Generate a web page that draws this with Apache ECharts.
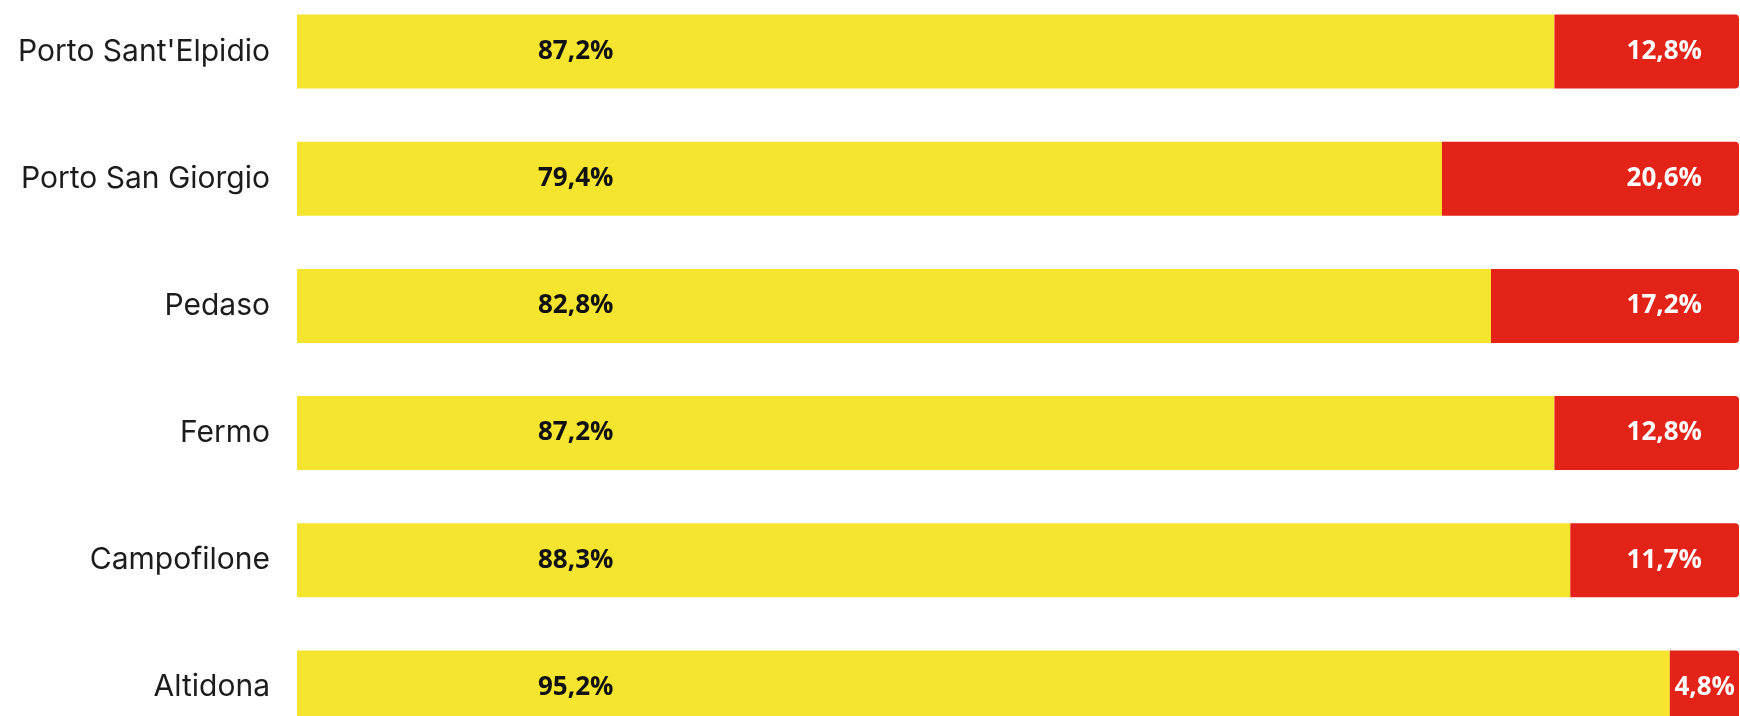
<!DOCTYPE html>
<html>
<head>
<meta charset="utf-8">
<script src="https://cdn.jsdelivr.net/npm/echarts@6/dist/echarts.min.js"></script>
<style>
  html, body { margin: 0; padding: 0; background: #fff; overflow: hidden; width: 1740px; height: 716px; }
  /* l'ultima barra e tagliata in basso come nell'originale */
  #chart { position: absolute; left: 0; top: -12px; width: 1740px; height: 763px; }
</style>
</head>
<body>
<div id="chart"></div>
<script>
// comuni, dall'alto verso il basso
const comuni = ["Porto Sant'Elpidio", 'Porto San Giorgio', 'Pedaso', 'Fermo', 'Campofilone', 'Altidona']
const quotaGialla = [87.2, 79.4, 82.8, 87.2, 88.3, 95.2]
const quotaRossa = [12.8, 20.6, 17.2, 12.8, 11.7, 4.8]

const fmt = (v) => v.toFixed(1).replace('.', ',') + '%'

const chart = echarts.init(document.getElementById('chart'))

const options = {
  animation: false,
  grid: {
    left: 297,
    right: 1,
    top: 0,
    bottom: 0
  },
  xAxis: {
    type: 'value',
    min: 0,
    max: 100,
    show: false
  },
  yAxis: {
    type: 'category',
    inverse: true,
    data: comuni,
    axisLine: { show: false },
    axisTick: { show: false },
    axisLabel: {
      margin: 27,
      fontSize: 30,
      fontFamily: 'Inter',
      color: '#1c1c1c',
      padding: [3, 0, 0, 0]
    }
  },
  series: [
    {
      name: 'gialla',
      type: 'bar',
      stack: 'tot',
      barWidth: 74,
      itemStyle: { color: '#F6E52E' },
      label: {
        show: true,
        position: [241, '50%'],
        align: 'left',
        verticalAlign: 'middle',
        fontFamily: 'Open Sans',
        fontWeight: 'bold',
        fontSize: 26,
        color: '#111',
        formatter: (p) => fmt(p.value)
      },
      data: quotaGialla
    },
    {
      name: 'rossa',
      type: 'bar',
      stack: 'tot',
      barWidth: 74,
      itemStyle: { color: '#E42318', borderRadius: [0, 4, 4, 0] },
      label: {
        show: true,
        position: 'insideRight',
        distance: 37,
        fontFamily: 'Open Sans',
        fontWeight: 'bold',
        fontSize: 26,
        color: '#fff',
        formatter: (p) => fmt(p.value)
      },
      // segmenti stretti: etichetta piu vicina al bordo
      data: quotaRossa.map((v) => (v < 8 ? { value: v, label: { distance: 4 } } : v))
    }
  ]
}

chart.setOption(options)
</script>
</body>
</html>
